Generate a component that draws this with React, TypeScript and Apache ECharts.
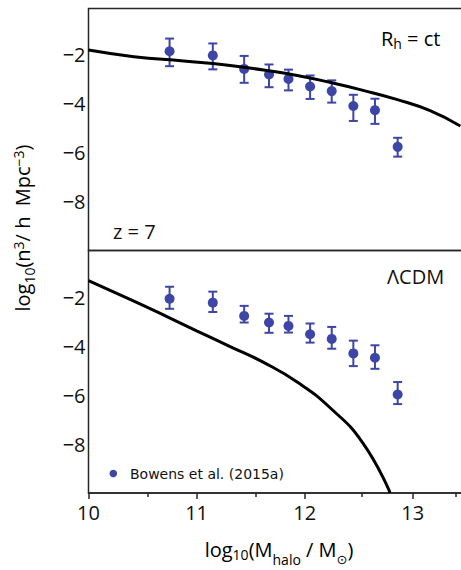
import React, { useEffect, useRef } from "react";
import * as echarts from "echarts";

// ---- data ----
const massX = [10.75, 11.15, 11.44, 11.67, 11.85, 12.05, 12.25, 12.45, 12.65, 12.86];
const rhY = [-1.85, -2.02, -2.57, -2.8, -2.98, -3.29, -3.48, -4.09, -4.26, -5.76];
const rhLo = [-2.46, -2.59, -3.14, -3.32, -3.45, -3.8, -3.95, -4.7, -4.82, -6.16];
const rhHi = [-1.33, -1.53, -2.04, -2.39, -2.6, -2.84, -3.04, -3.63, -3.79, -5.39];
const lcY = [-2.07, -2.23, -2.77, -3.04, -3.18, -3.52, -3.71, -4.3, -4.48, -5.98];
const lcLo = [-2.48, -2.61, -3.04, -3.46, -3.45, -3.86, -4.11, -4.82, -4.93, -6.37];
const lcHi = [-1.58, -1.78, -2.36, -2.68, -2.77, -3.08, -3.22, -3.78, -3.97, -5.47];

const rhCurveX = [10.0, 10.42, 10.88, 11.31, 11.62, 11.93, 12.24, 12.54, 12.85, 13.16, 13.44];
const rhCurveY = [-1.8, -2.07, -2.25, -2.43, -2.62, -2.84, -3.13, -3.45, -3.82, -4.28, -4.91];
const lcCurveX = [10.0, 10.42, 10.73, 11.0, 11.31, 11.62, 11.93, 12.24, 12.54, 12.79];
const lcCurveY = [-1.33, -2.17, -2.81, -3.38, -4.02, -4.67, -5.47, -6.54, -7.97, -9.99];

const xTicks = [10, 11, 12, 13];
const xMinorTicks = [10.55, 11.55, 12.53, 13.4];
const yTicks = [-8, -6, -4, -2];

const X_MIN = 10;
const X_MAX = 13.52;
const Y_MIN = -10;
const Y_MAX = -0.1;

const F = "'Open Sans', 'Noto Sans', sans-serif";
const BLUE = "#3d46a6";
const FRAME = "#262626";

const errData = (lo: number[], hi: number[]) => massX.map((x, i) => [x, lo[i], hi[i]]);
const ptData = (y: number[]) => massX.map((x, i) => [x, y[i]]);
const curveData = (xs: number[], ys: number[]) => xs.map((x, i) => [x, ys[i]]);

const errRender = (params: any, api: any) => {
  const x = api.value(0);
  const lo = api.value(1);
  const hi = api.value(2);
  const p1 = api.coord([x, hi]);
  const p2 = api.coord([x, lo]);
  const w = 4.5;
  const st = { stroke: BLUE, lineWidth: 2 };
  return {
    type: "group",
    children: [
      { type: "line", shape: { x1: p1[0], y1: p1[1], x2: p2[0], y2: p2[1] }, style: st },
      { type: "line", shape: { x1: p1[0] - w, y1: p1[1], x2: p1[0] + w, y2: p1[1] }, style: st },
      { type: "line", shape: { x1: p2[0] - w, y1: p2[1], x2: p2[0] + w, y2: p2[1] }, style: st },
    ],
  };
};

const main = { fontSize: 20, fontFamily: F, color: "#111", verticalAlign: "middle" };
const small = { fontSize: 14, fontFamily: F, color: "#111", verticalAlign: "middle" };

export default function App() {
  const ref = useRef<HTMLDivElement>(null);
  useEffect(() => {
    if (!ref.current) return;
    const chart = echarts.init(ref.current, null, { renderer: "svg" });
    const gridW = (X_MAX - X_MIN) * 108.1;
    const yAxisCommon = {
      type: "value",
      min: Y_MIN,
      max: Y_MAX,
      interval: 2,
      axisLine: { show: false },
      axisTick: { show: false },
      splitLine: { show: false },
      axisLabel: {
        fontSize: 20,
        fontFamily: F,
        color: "#111",
        margin: 3,
        formatter: (v: number) => (yTicks.includes(v) ? "\u2212" + Math.abs(v) : ""),
      },
    };
    const lineCommon = {
      type: "line",
      smooth: 0.5,
      showSymbol: false,
      symbol: "none",
      lineStyle: { color: "#000", width: 3 },
      z: 4,
      clip: true,
    };
    chart.setOption({
      animation: false,
      grid: [
        { left: 88.5, top: 8.5, width: gridW, height: 242, show: true, borderColor: FRAME, borderWidth: 1.5, backgroundColor: "transparent" },
        { left: 88.5, top: 250.5, width: gridW, height: 242.5, show: true, borderColor: FRAME, borderWidth: 1.5, backgroundColor: "transparent" },
      ],
      xAxis: [
        { type: "value", gridIndex: 0, min: X_MIN, max: X_MAX, axisLine: { show: false }, axisTick: { show: false }, axisLabel: { show: false }, splitLine: { show: false } },
        {
          type: "value",
          gridIndex: 1,
          min: X_MIN,
          max: X_MAX,
          interval: 1,
          axisLine: { show: true, lineStyle: { color: FRAME, width: 1.5 } },
          axisTick: { show: true, length: 6, lineStyle: { color: FRAME, width: 1.5 } },
          splitLine: { show: false },
          axisLabel: {
            fontSize: 20,
            fontFamily: F,
            color: "#111",
            margin: 9,
            formatter: (v: number) => (xTicks.includes(v) ? String(v) : ""),
          },
        },
        {
          type: "value",
          gridIndex: 1,
          position: "bottom",
          min: X_MIN,
          max: X_MAX,
          axisLine: { show: false },
          axisLabel: { show: false },
          splitLine: { show: false },
          axisTick: { show: true, length: 4, customValues: xMinorTicks, lineStyle: { color: FRAME, width: 1.5 } },
        },
      ],
      yAxis: [
        { ...yAxisCommon, gridIndex: 0 },
        { ...yAxisCommon, gridIndex: 1 },
      ],
      series: [
        { type: "custom", xAxisIndex: 0, yAxisIndex: 0, renderItem: errRender, data: errData(rhLo, rhHi), encode: { x: 0, y: [1, 2] }, z: 2 },
        { type: "scatter", name: "Bowens et al. (2015a)", xAxisIndex: 0, yAxisIndex: 0, data: ptData(rhY), symbolSize: 10, itemStyle: { color: BLUE, opacity: 1 }, z: 3 },
        { ...lineCommon, xAxisIndex: 0, yAxisIndex: 0, data: curveData(rhCurveX, rhCurveY) },
        { type: "custom", xAxisIndex: 1, yAxisIndex: 1, renderItem: errRender, data: errData(lcLo, lcHi), encode: { x: 0, y: [1, 2] }, z: 2 },
        { type: "scatter", name: "Bowens et al. (2015a)", xAxisIndex: 1, yAxisIndex: 1, data: ptData(lcY), symbolSize: 10, itemStyle: { color: BLUE, opacity: 1 }, z: 3 },
        { ...lineCommon, xAxisIndex: 1, yAxisIndex: 1, data: curveData(lcCurveX, lcCurveY) },
      ],
      graphic: [
        {
          type: "text",
          x: 381,
          y: 38,
          style: {
            text: "{a|R}{s|h}{a| = ct}",
            align: "left",
            verticalAlign: "middle",
            rich: { a: main, s: { ...small, padding: [11, 0, 0, 0] } },
          },
        },
        {
          type: "text",
          x: 113,
          y: 231,
          style: { text: "z = 7", fontSize: 20, fontFamily: F, fill: "#111", align: "left", verticalAlign: "middle" },
        },
        {
          type: "text",
          x: 387,
          y: 276,
          style: { text: "\u039BCDM", fontSize: 20, fontFamily: F, fill: "#111", align: "left", verticalAlign: "middle" },
        },
        { type: "circle", shape: { cx: 113.3, cy: 473.5, r: 3.8 }, style: { fill: BLUE } },
        {
          type: "text",
          x: 130,
          y: 474,
          style: { text: "Bowens et al. (2015a)", fontSize: 14, fontFamily: "'DejaVu Sans', sans-serif", fill: "#111", align: "left", verticalAlign: "middle" },
        },
        {
          type: "text",
          x: 279,
          y: 549.5,
          style: {
            text: "{a|log}{s1|10}{a|(M}{s2|halo}{a| / M}{s3|\u2299}{a|)}",
            align: "center",
            verticalAlign: "middle",
            rich: {
              a: main,
              s1: { ...small, padding: [10, 0, 0, 0] },
              s2: { ...small, padding: [20, 0, 0, 0] },
              s3: { ...small, fontFamily: "'DejaVu Sans', sans-serif", fontSize: 13, padding: [20, 0, 0, 0] },
            },
          },
        },
        {
          type: "text",
          x: 22,
          y: 228,
          rotation: Math.PI / 2,
          style: {
            text: "{a|log}{s|10}{a|(n}{p|3}{a|/ h  Mpc}{p|\u22123}{a|)}",
            align: "center",
            verticalAlign: "middle",
            rich: {
              a: main,
              s: { ...small, padding: [14, 0, 0, 0] },
              p: { ...small, padding: [0, 0, 8, 0] },
            },
          },
        },
      ],
    });
    return () => chart.dispose();
  }, []);
  return (
    <div style={{ position: "absolute", left: 0, top: 0, width: 461, height: 570, overflow: "hidden" }}>
      <div ref={ref} style={{ width: 480, height: 570 }} />
    </div>
  );
}
